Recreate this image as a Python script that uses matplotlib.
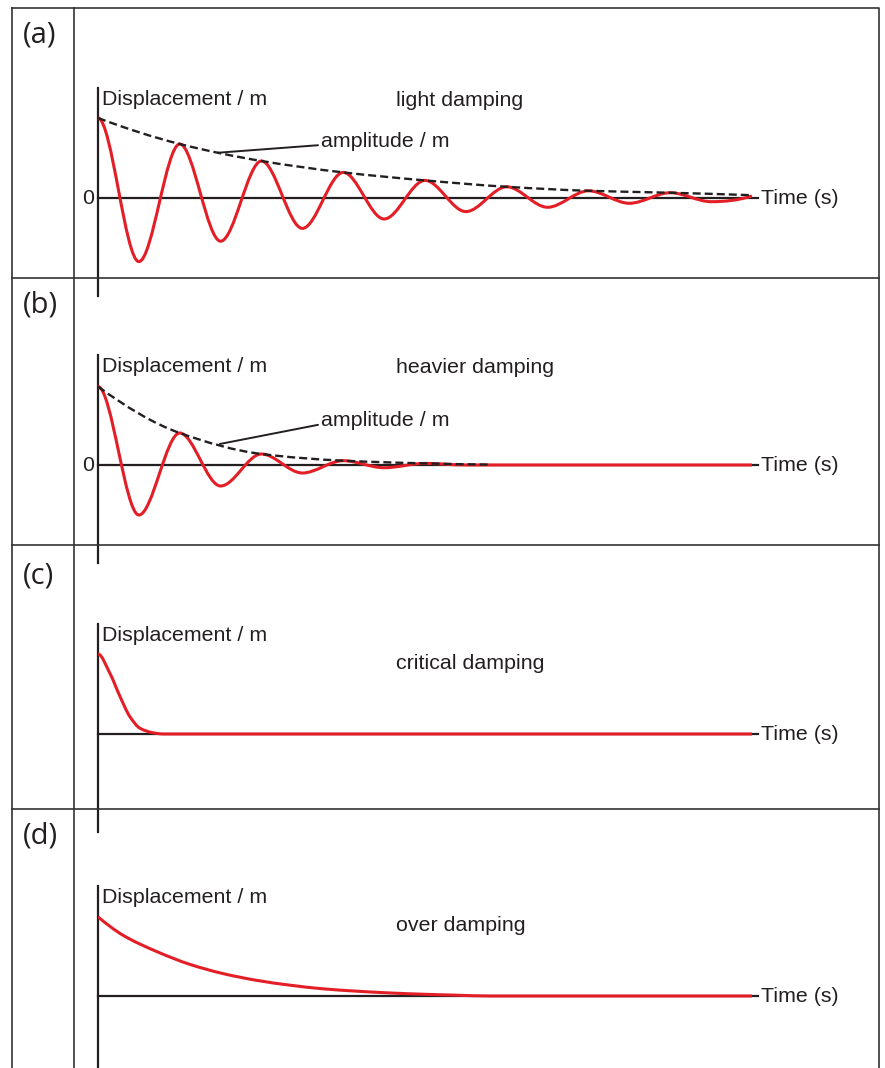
import numpy as np
import matplotlib as mpl
mpl.use('Agg')
import matplotlib.pyplot as plt
from matplotlib.path import Path
from matplotlib.patches import PathPatch
from matplotlib.lines import Line2D

# time in half-periods of the swing, displacement relative to the release displacement
light_t = [0, 1, 2, 3, 4, 5, 6, 7, 8, 9, 10, 11, 12, 13, 14, 15, 16]
light_x = [1.0, -0.795, 0.675, -0.54, 0.4625, -0.38, 0.32, -0.2625, 0.22,
           -0.17, 0.14, -0.116, 0.09, -0.066, 0.066, -0.046, 0.025]
light_env_t = [0, 2, 4, 6, 8, 10, 12, 14, 16]
light_env = [1.0, 0.675, 0.4625, 0.32, 0.22, 0.14, 0.09, 0.066, 0.035]

heavy_t = [0, 1, 2, 3, 4, 5, 6, 7, 8, 9, 16]
heavy_x = [0.98, -0.625, 0.40, -0.2625, 0.1375, -0.10, 0.054, -0.034, 0.02, 0.0, 0.0]
heavy_env_t = [0, 2, 4, 6, 8, 9.55]
heavy_env = [0.98, 0.40, 0.1375, 0.054, 0.02, 0.005]

crit_t = [0, 0.29, 0.54, 0.78, 1.03, 1.35, 1.6, 16]
crit_x = [1.0, 0.76, 0.467, 0.217, 0.071, 0.015, 0.0, 0.0]

over_t = [0, 0.61, 1.44, 2.25, 3.06, 3.89, 4.70, 5.50, 6.34, 7.14, 7.95, 8.78, 9.59, 16]
over_x = [0.99, 0.76, 0.555, 0.395, 0.28, 0.195, 0.135, 0.09, 0.06, 0.038,
          0.022, 0.01, 0.0, 0.0]

panel_labels = ['(a)', '(b)', '(c)', '(d)']
damping_labels = ['light damping', 'heavier damping', 'critical damping', 'over damping']

W, H = 885, 1068
INK = '#231f20'
RED = '#e31e26'
FRAME = '#333333'
PX_T = 40.875      # pixels per time unit
PX_X = 80.0        # pixels per displacement unit
X0 = 98
T_END = (758 - X0) / PX_T
TOP, BOT = 1.375, -1.225
FS = 15.4

fig = plt.figure(figsize=(W / 100, H / 100), dpi=100)


def frame(xs, ys):
    fig.add_artist(Line2D([a / W for a in xs], [1 - b / H for b in ys],
                          color=FRAME, lw=1.2, transform=fig.transFigure))


def end_slope(h0, h1, d0, d1):
    s = ((2 * h0 + h1) * d0 - h0 * d1) / (h0 + h1)
    if s * d0 <= 0:
        return 0.0
    if d0 * d1 <= 0 and abs(s) > 3 * abs(d0):
        return 3 * d0
    return s


def curve(ax, ts, xs, flat_start=False, **kw):
    # monotone cubic through the read points, drawn as bezier segments
    t = np.asarray(ts, float)
    y = np.asarray(xs, float)
    h = np.diff(t)
    d = np.diff(y) / h
    m = np.zeros_like(y)
    for i in range(1, len(y) - 1):
        if d[i - 1] * d[i] > 0:
            w1, w2 = 2 * h[i] + h[i - 1], h[i] + 2 * h[i - 1]
            m[i] = (w1 + w2) / (w1 / d[i - 1] + w2 / d[i])
    m[0] = 0.0 if flat_start else end_slope(h[0], h[1], d[0], d[1])
    m[-1] = end_slope(h[-1], h[-2], d[-1], d[-2])
    verts = [(t[0], y[0])]
    codes = [Path.MOVETO]
    for i in range(len(h)):
        verts += [(t[i] + h[i] / 3, y[i] + m[i] * h[i] / 3),
                  (t[i + 1] - h[i] / 3, y[i + 1] - m[i + 1] * h[i] / 3),
                  (t[i + 1], y[i + 1])]
        codes += [Path.CURVE4] * 3
    ax.add_patch(PathPatch(Path(verts, codes), fill=False, **kw))


def panel(zero_y):
    ax = fig.add_axes([X0 / W, 1 - (zero_y - BOT * PX_X) / H,
                       T_END * PX_T / W, (TOP - BOT) * PX_X / H])
    ax.set_xlim(0, T_END)
    ax.set_ylim(BOT, TOP)
    ax.patch.set_visible(False)
    ax.spines['top'].set_visible(False)
    ax.spines['right'].set_visible(False)
    ax.spines['bottom'].set_position(('data', 0))
    for s in ('left', 'bottom'):
        ax.spines[s].set_color(INK)
        ax.spines[s].set_linewidth(1.6)
    ax.set_xticks([])
    ax.set_yticks([])
    ax.text(0.11, 1.16, 'Displacement / m', fontsize=FS, family='Liberation Sans',
            color=INK, va='baseline')
    ax.text(16.22, -0.075, 'Time (s)', fontsize=FS, family='Liberation Sans',
            color=INK, va='baseline')
    return ax


red = dict(edgecolor=RED, lw=2.2, zorder=3, capstyle='butt', joinstyle='round')
dash = dict(edgecolor=INK, lw=1.7, linestyle=(0, (3.4, 1.7)), zorder=4)

# outer frame and cell dividers
frame([11.5, 879, 879], [8.3, 8.3, 1068])
frame([11.5, 11.5], [8.3, 1068])
frame([74, 74], [8.3, 1068])
for yy in (278, 545, 808.5):
    frame([11.5, 879], [yy, yy])

zeros = [198, 465, 734, 996]
label_base = [42.7, 312.7, 583.3, 843.3]
kind_y = [1.15, 1.15, 0.81, 0.81]

axes = []
for i in range(4):
    ax = panel(zeros[i])
    ax.text(7.28, kind_y[i], damping_labels[i], fontsize=FS, family='Liberation Sans',
            color=INK, va='baseline')
    fig.text(22.7 / W, 1 - label_base[i] / H, panel_labels[i], fontsize=21,
             family='Open Sans', color=INK, va='baseline')
    axes.append(ax)

ax = axes[0]
curve(ax, light_t, light_x, flat_start=True, **red)
curve(ax, light_env_t, light_env, **dash)
ax.text(-0.086, -0.075, '0', fontsize=FS, family='Liberation Sans', color=INK,
        ha='right', va='baseline')
ax.annotate('amplitude / m', xy=(2.94, 0.566), xytext=(5.45, 0.641),
            fontsize=FS, family='Liberation Sans', color=INK, va='baseline',
            arrowprops=dict(arrowstyle='-', color=INK, lw=1.4, shrinkA=0, shrinkB=0,
                            relpos=(0, 0.3)))

ax = axes[1]
curve(ax, heavy_t, heavy_x, flat_start=True, **red)
curve(ax, heavy_env_t, heavy_env, **dash)
ax.text(-0.086, -0.075, '0', fontsize=FS, family='Liberation Sans', color=INK,
        ha='right', va='baseline')
ax.annotate('amplitude / m', xy=(2.98, 0.2625), xytext=(5.45, 0.4875),
            fontsize=FS, family='Liberation Sans', color=INK, va='baseline',
            arrowprops=dict(arrowstyle='-', color=INK, lw=1.4, shrinkA=0, shrinkB=0,
                            relpos=(0, 0.3)))

curve(axes[2], crit_t, crit_x, flat_start=True, **red)
curve(axes[3], over_t, over_x, **red)

fig.savefig('out.png', dpi=100)
